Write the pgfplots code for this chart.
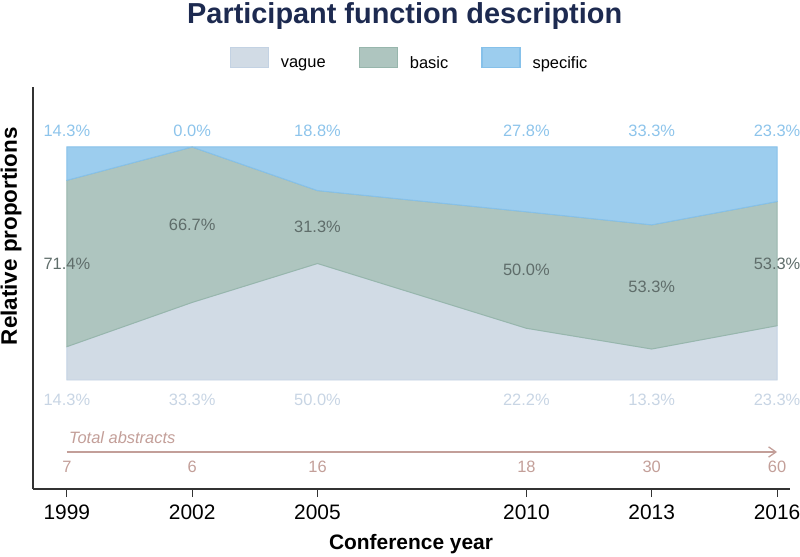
\documentclass[border=0pt]{standalone}
\usepackage{fontspec}
\setmainfont{Liberation Sans}
\usepackage{pgfplots}
\pgfplotsset{compat=1.18}
\usetikzlibrary{arrows.meta}
\definecolor{vaguef}{HTML}{D1DBE5}
\definecolor{vagued}{HTML}{C3D2E3}
\definecolor{basicf}{HTML}{AEC5BF}
\definecolor{basicd}{HTML}{97B6AC}
\definecolor{specf}{HTML}{9CCDEE}
\definecolor{specd}{HTML}{86C1EA}
\definecolor{toplab}{HTML}{8DC4EB}
\definecolor{botlab}{HTML}{C8D5E4}
\definecolor{midlab}{HTML}{5F6D6A}
\definecolor{totc}{HTML}{C39F99}
\definecolor{titlec}{HTML}{1D2A50}
\definecolor{axc}{HTML}{333333}
\begin{document}
\begin{tikzpicture}
\path[use as bounding box] (-33bp,-68bp) rectangle (767bp,489bp);
\begin{axis}[
  scale only axis,
  width=757bp, height=402bp,
  at={(0,0)}, anchor=south west,
  xmin=1998.19, xmax=2016.31,
  ymin=-0.4678, ymax=1.2575,
  clip=false,
  axis lines=left,
  axis line style={-, draw=axc, line width=1.3pt},
  ytick=\empty,
  xtick={1999,2002,2005,2010,2013,2016},
  xticklabels={1999,2002,2005,2010,2013,2016},
  tick align=outside,
  major tick length=8bp,
  x tick style={draw=axc, line width=1.1pt},
  xticklabel style={font=\fontsize{21}{24}\selectfont, text=black, yshift=-4bp},
  xlabel={Conference year},
  xlabel style={at={(axis description cs:0.4994,-0.137)}, anchor=center, font=\bfseries\fontsize{21}{24}\selectfont},
  ylabel={Relative proportions},
  ylabel style={at={(axis description cs:-0.029,0.629)}, anchor=center, font=\bfseries\fontsize{22.5}{26}\selectfont},
  title={Participant function description},
  every axis title/.style={at={(axis description cs:0.491,1.159)}, anchor=base, font=\bfseries\fontsize{29}{34}\selectfont, text=titlec},
  legend columns=3,
  legend style={at={(axis description cs:0.5,1.068)}, anchor=center, draw=none, fill=none,
    font=\fontsize{16.5}{19}\selectfont,
    nodes={inner xsep=6bp},
    /tikz/every odd column/.append style={column sep=6bp},
    /tikz/every even column/.append style={column sep=27bp}},
  legend image code/.code={\draw[#1, line width=1.3pt] (0bp,-4bp) rectangle (38bp,16bp);},
  nodes near coords style={anchor=center},
]
\addplot[fill=vaguef, draw=vagued, line width=1pt] coordinates {
 (1999,0) (2002,0) (2005,0) (2010,0) (2013,0) (2016,0)
 (2016,0.233) (2013,0.133) (2010,0.222) (2005,0.500) (2002,0.333) (1999,0.143)} -- cycle;
\addlegendentry{vague}
\addplot[fill=basicf, draw=basicd, line width=1pt] coordinates {
 (1999,0.143) (2002,0.333) (2005,0.500) (2010,0.222) (2013,0.133) (2016,0.233)
 (2016,0.766) (2013,0.666) (2010,0.722) (2005,0.813) (2002,1.000) (1999,0.857)} -- cycle;
\addlegendentry{basic}
\addplot[fill=specf, draw=specd, line width=1pt] coordinates {
 (1999,0.857) (2002,1.000) (2005,0.813) (2010,0.722) (2013,0.666) (2016,0.766)
 (2016,1) (2013,1) (2010,1) (2005,1) (2002,1) (1999,1)} -- cycle;
\addlegendentry{specific}
% top labels (specific)
\addplot[forget plot, only marks, mark=none, point meta=explicit symbolic, nodes near coords,
  nodes near coords style={anchor=center, text=toplab, font=\fontsize{16.5}{19}\selectfont}] coordinates {
 (1999,1.069) [14.3\%] (2002,1.069) [0.0\%] (2005,1.069) [18.8\%]
 (2010,1.069) [27.8\%] (2013,1.069) [33.3\%] (2016,1.069) [23.3\%]};
% bottom labels (vague)
\addplot[forget plot, only marks, mark=none, point meta=explicit symbolic, nodes near coords,
  nodes near coords style={anchor=center, text=botlab, font=\fontsize{16.5}{19}\selectfont}] coordinates {
 (1999,-0.086) [14.3\%] (2002,-0.086) [33.3\%] (2005,-0.086) [50.0\%]
 (2010,-0.086) [22.2\%] (2013,-0.086) [13.3\%] (2016,-0.086) [23.3\%]};
% middle labels (basic)
\addplot[forget plot, only marks, mark=none, point meta=explicit symbolic, nodes near coords,
  nodes near coords style={anchor=center, text=midlab, font=\fontsize{16.5}{19}\selectfont}] coordinates {
 (1999,0.5) [71.4\%] (2002,0.6665) [66.7\%] (2005,0.6565) [31.3\%]
 (2010,0.472) [50.0\%] (2013,0.3995) [53.3\%] (2016,0.4995) [53.3\%]};
% totals
\addplot[forget plot, only marks, mark=none, point meta=explicit symbolic, nodes near coords,
  nodes near coords style={anchor=center, text=totc, font=\fontsize{16.5}{19}\selectfont}] coordinates {
 (1999,-0.373) [7] (2002,-0.373) [6] (2005,-0.373) [16]
 (2010,-0.373) [18] (2013,-0.373) [30] (2016,-0.373) [60]};
\addplot[forget plot, draw=totc, line width=1.3pt, -{Straight Barb[angle=70:9bp]}] coordinates {(1999,-0.309) (2016,-0.309)};
\node[anchor=west, inner sep=2bp, text=totc, font=\itshape\fontsize{16.5}{19}\selectfont] at (axis cs:1999,-0.249) {Total abstracts};
\end{axis}
\end{tikzpicture}
\end{document}
